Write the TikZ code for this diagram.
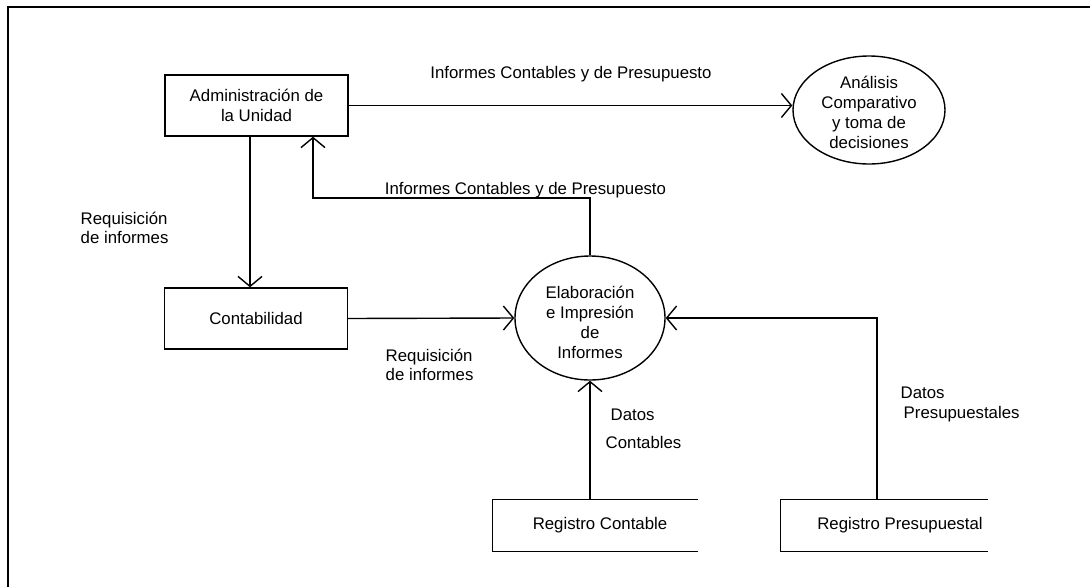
\documentclass[tikz,border=0pt]{standalone}
\usepackage{fontspec}
\setmainfont{Liberation Sans}
\usetikzlibrary{arrows.meta,shapes.geometric}
\begin{document}
\begin{tikzpicture}[x=1pt,y=-1pt,
  line width=1.4pt,
  every node/.style={font=\fontsize{16.8}{20}\selectfont, inner sep=0pt},
  box/.style={draw, rectangle, minimum width=183pt, minimum height=61pt, align=center},
  proc/.style={draw, ellipse},
  ptext/.style={align=center},
  flow/.style={-{Straight Barb[length=10pt,width=24pt]}},
  lbl/.style={anchor=base west},
  clbl/.style={anchor=base},
]
\useasboundingbox (0,0) rectangle (1090,587);
\draw (8,587) -- (8,7) -- (1090,7);

% nodes
\node[box] (admin) at (256.5,105.5) {Administraci\'on de\\la Unidad};
\node[box] (cont) at (256,318.5) {Contabilidad};
\node[proc, minimum width=152pt, minimum height=108pt] (ana) at (869,110) {};
\node[ptext] (anatext) at (869,112) {An\'alisis\\Comparativo\\y toma de\\decisiones};
\node[proc, minimum width=150pt, minimum height=124pt] (elab) at (590,318) {};
\node[ptext] (elabtext) at (590,322) {Elaboraci\'on\\e Impresi\'on\\de\\Informes};

\node[minimum width=204pt, minimum height=51pt] (rc) at (595,525.5) {};
\draw (rc.north east) -- (rc.north west) -- (rc.south west) -- (rc.south east);
\node (rctext) at (600,525) {Registro Contable};

\node[minimum width=206pt, minimum height=51pt] (rp) at (884,525.5) {};
\draw (rp.north east) -- (rp.north west) -- (rp.south west) -- (rp.south east);
\node (rptext) at (900,525) {Registro Presupuestal};

% helper coordinates
\coordinate (xa) at (250,0);
\coordinate (bend) at (313,198);
\coordinate (xp) at (877,0);

% connectors
\draw[flow] (admin.east) -- (ana.west |- admin.east);
\draw[flow] (admin.south -| xa) -- (cont.north -| xa);
\draw[flow] (elab.north) |- (bend) -- (admin.south -| bend);
\draw[flow] (cont.east) -- (elab.west);
\draw[flow] (rc.north -| elab.south) -- (elab.south);
\draw[flow] (rp.north -| xp) |- (elab.east);

% labels
\node[clbl] (l1) at (571,78) {Informes Contables y de Presupuesto};
\node[clbl] (l2) at (525.5,194) {Informes Contables y de Presupuesto};
\node[lbl] (l3a) at (80,224) {Requisici\'on};
\node[lbl] (l3b) at (80,243) {de informes};
\node[lbl] (l4a) at (385,361) {Requisici\'on};
\node[lbl] (l4b) at (385,380) {de informes};
\node[lbl] (l5a) at (610,420) {Datos};
\node[lbl] (l5b) at (605,448) {Contables};
\node[lbl] (l6a) at (900,398) {Datos};
\node[lbl] (l6b) at (903,418) {Presupuestales};
\end{tikzpicture}
\end{document}
